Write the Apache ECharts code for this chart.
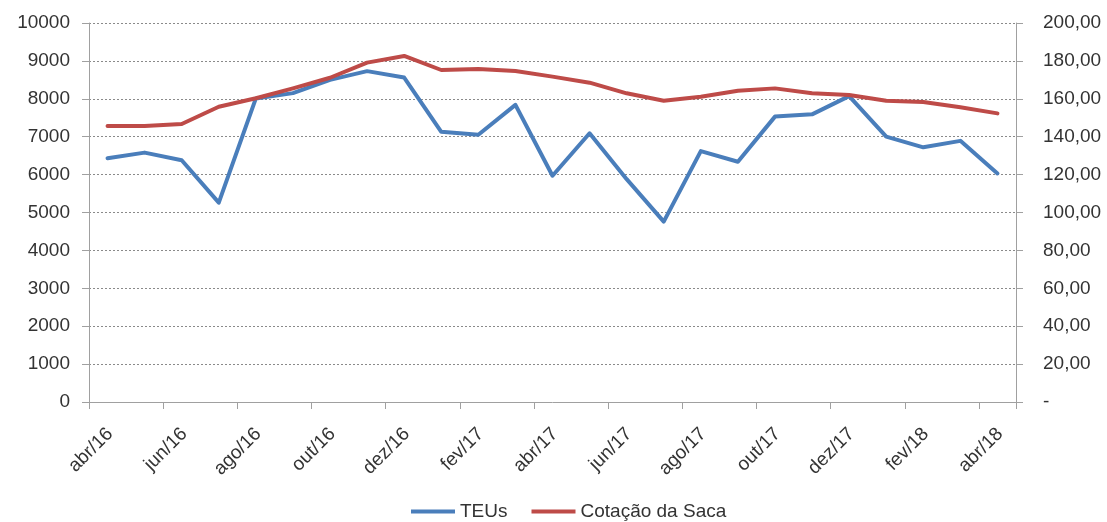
<!DOCTYPE html>
<html>
<head>
<meta charset="utf-8">
<script src="https://cdn.jsdelivr.net/npm/echarts@6/dist/echarts.min.js"></script>
<style>
  html, body { margin: 0; padding: 0; background: #fff; }
  #chart { width: 1107px; height: 522px; }
</style>
</head>
<body>
<div id="chart"></div>
<script>
const months = [
  'abr/16', 'mai/16', 'jun/16', 'jul/16', 'ago/16', 'set/16', 'out/16', 'nov/16', 'dez/16',
  'jan/17', 'fev/17', 'mar/17', 'abr/17', 'mai/17', 'jun/17', 'jul/17', 'ago/17', 'set/17',
  'out/17', 'nov/17', 'dez/17', 'jan/18', 'fev/18', 'mar/18', 'abr/18'
]
const teus = [
  6430, 6580, 6380, 5260, 8010, 8150, 8500, 8730, 8560,
  7130, 7050, 7840, 5970, 7090, 5880, 4760, 6620, 6340,
  7530, 7590, 8070, 7000, 6720, 6890, 6030
]
const cotacao = [
  145.6, 145.6, 146.7, 155.8, 160.3, 165.5, 171.1, 179.1, 182.6,
  175.2, 175.7, 174.7, 171.7, 168.5, 162.9, 159.0, 161.1, 164.3,
  165.5, 162.9, 162.0, 159.0, 158.3, 155.5, 152.3
]
const leftAxis = { min: 0, max: 10000, step: 1000 }
const rightAxis = { min: 0, max: 200, step: 20 }

const font = '"Liberation Sans", Arial, sans-serif'
const textColor = '#333333'
const axisGray = '#a0a0a0'

function fmtMoney(v) {
  if (v === 0) return '-'
  return v.toFixed(2).replace('.', ',')
}

const chart = echarts.init(document.getElementById('chart'), null, { renderer: 'canvas' })
chart.setOption({
  animation: false,
  backgroundColor: '#fff',
  grid: { left: 89, right: 91, top: 23, bottom: 120, containLabel: false },
  legend: {
    left: 411,
    top: 502,
    padding: 0,
    icon: 'rect',
    itemWidth: 44,
    itemHeight: 4,
    itemGap: 24,
    textStyle: { fontFamily: font, fontSize: 19, color: textColor },
    data: ['TEUs', 'Cotação da Saca']
  },
  xAxis: {
    type: 'category',
    data: months,
    boundaryGap: true,
    axisLine: { lineStyle: { color: axisGray, width: 1 } },
    axisTick: { show: true, interval: 1, length: 7, lineStyle: { color: axisGray } },
    axisLabel: {
      interval: 1,
      rotate: 45,
      margin: 18,
      padding: [0, 6, 0, 0],
      verticalAlign: 'top',
      fontFamily: font,
      fontSize: 19,
      color: textColor
    }
  },
  yAxis: [
    {
      type: 'value',
      min: leftAxis.min,
      max: leftAxis.max,
      interval: leftAxis.step,
      axisLine: { show: true, lineStyle: { color: axisGray } },
      axisTick: { show: true, length: 7, lineStyle: { color: axisGray } },
      axisLabel: { margin: 19, fontFamily: font, fontSize: 19, color: textColor, formatter: v => String(v) },
      splitLine: { show: true, lineStyle: { color: '#8a8a8a', type: [2, 2], width: 1 } }
    },
    {
      type: 'value',
      position: 'right',
      min: rightAxis.min,
      max: rightAxis.max,
      interval: rightAxis.step,
      axisLine: { show: true, lineStyle: { color: axisGray } },
      axisTick: { show: true, length: 7, lineStyle: { color: axisGray } },
      axisLabel: { margin: 27, fontFamily: font, fontSize: 19, color: textColor, formatter: fmtMoney },
      splitLine: { show: false }
    }
  ],
  series: [
    {
      name: 'TEUs',
      type: 'line',
      yAxisIndex: 0,
      data: teus,
      symbol: 'none',
      color: '#4a7ebb',
      lineStyle: { width: 4, cap: 'round', join: 'round' }
    },
    {
      name: 'Cotação da Saca',
      type: 'line',
      yAxisIndex: 1,
      data: cotacao,
      symbol: 'none',
      color: '#be4b48',
      lineStyle: { width: 4, cap: 'round', join: 'round' }
    }
  ]
})
</script>
</body>
</html>
